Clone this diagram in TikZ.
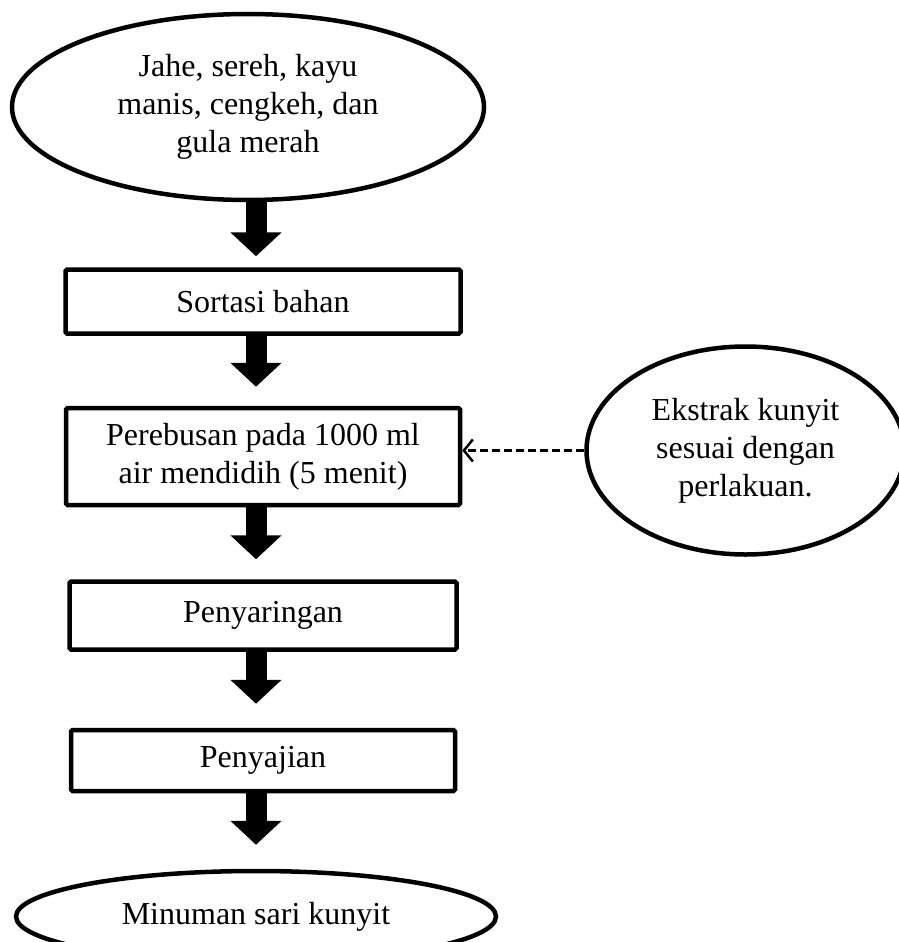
\documentclass[tikz,border=0pt]{standalone}
\usepackage{fontspec}
\setmainfont{Liberation Serif}
\usetikzlibrary{shapes.geometric, arrows.meta, positioning}

\begin{document}
\begin{tikzpicture}[
    x=1pt, y=-1pt,
    every node/.style={font=\fontsize{32}{38}\selectfont},
    process/.style={
        rectangle,
        rounded corners=1.5pt,
        inner sep=0pt,
        align=center,
        draw=black,
        line width=4.5pt
    },
    terminal/.style={
        ellipse,
        inner sep=0pt,
        align=center,
        draw=black,
        line width=4.5pt
    },
    flow/.style={line width=21pt, -{Triangle[width=50pt, length=24pt]}, color=black},
    dashflow/.style={line width=2.5pt, dash pattern=on 8pt off 4pt, -{Straight Barb[length=9pt, width=22pt]}}
]
    \useasboundingbox (0,0) rectangle (899,942);

    % Define nodes
    \node (src) [terminal, minimum width=472pt, minimum height=186pt] at (248,107)
        {Jahe, sereh, kayu\\manis, cengkeh, dan\\gula merah};

    \node (sort) [process, minimum width=395pt, minimum height=64pt, below=65pt of src, xshift=15pt] {Sortasi bahan};
    \node (boil) [process, minimum width=394pt, minimum height=97pt, below=70pt of sort]
        {Perebusan pada 1000 ml\\air mendidih (5 menit)};
    \node (filt) [process, minimum width=387pt, minimum height=68pt, below=72pt of boil] {Penyaringan};
    \node (serve) [process, minimum width=384pt, minimum height=61pt, below=76pt of filt] {Penyajian};

    \node (prod) [terminal, minimum width=480pt, minimum height=91pt, below=75.5pt of serve, xshift=-7pt] {Minuman sari kunyit};

    % Side input for the boiling step
    \node (ext) [terminal, minimum width=318pt, minimum height=208pt, right=122pt of boil, yshift=6pt]
        {Ekstrak kunyit\\sesuai dengan\\perlakuan.};

    % Arrows sit on one vertical line
    \coordinate (spine) at (256,0);

    % Draw connections
    \draw [flow, shorten >=11pt] (src.south -| spine) -- (sort.north -| spine);
    \draw [flow, shorten >=19pt] (sort.south -| spine) -- (boil.north -| spine);
    \draw [flow, shorten >=20pt] (boil.south -| spine) -- (filt.north -| spine);
    \draw [flow, shorten >=24pt] (filt.south -| spine) -- (serve.north -| spine);
    \draw [flow, shorten >=24pt] (serve.south -| spine) -- (prod.north -| spine);

    \draw [dashflow] (ext.west) -- (ext.west -| boil.east);

\end{tikzpicture}
\end{document}
